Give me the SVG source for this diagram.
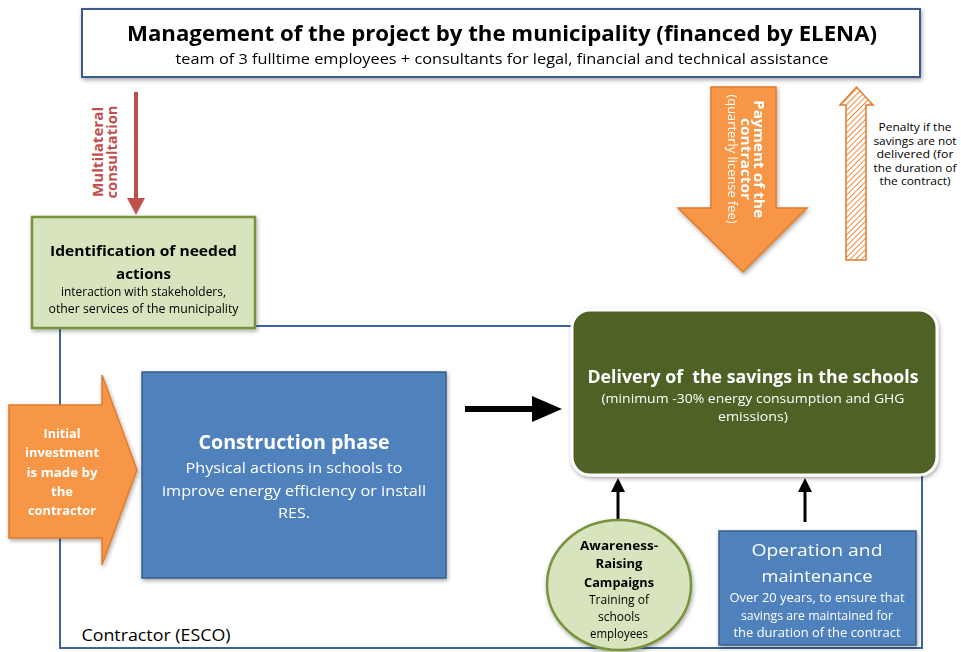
<svg xmlns="http://www.w3.org/2000/svg" width="961" height="652" viewBox="0 0 961 652">
<style>
text{font-family:"Open Sans","Liberation Sans",sans-serif;text-anchor:middle}
.w{fill:#ffffff}
.b{font-weight:bold}
.k{fill:#000000}
.blue{fill:#4f81bd;stroke:#385d8a;stroke-width:1.5}
.green{fill:#d7e4bd;stroke:#77933c;stroke-width:2.5}
.orange{fill:#f79646;stroke:#e07b2c;stroke-width:1.5}
</style>
<defs>
<filter id="sh" x="-10%" y="-10%" width="120%" height="130%">
<feDropShadow dx="1" dy="2" stdDeviation="2" flood-color="#000" flood-opacity="0.35"/>
</filter>
<pattern id="hatch" width="4" height="4" patternUnits="userSpaceOnUse" patternTransform="rotate(45)">
<rect width="4" height="4" fill="#ffffff"/>
<line x1="0" y1="0" x2="0" y2="4" stroke="#f08a40" stroke-width="2"/>
</pattern>
</defs>

<g id="contractor">
<rect x="60" y="326" width="862" height="322" fill="none" stroke="#3d64a0" stroke-width="2"/>
<text x="156" y="641" font-size="16" class="k" textLength="149" lengthAdjust="spacingAndGlyphs">Contractor (ESCO)</text>
</g>

<g id="management" filter="url(#sh)">
<rect x="82" y="9" width="838" height="68" fill="#ffffff" stroke="#385d8a" stroke-width="2"/>
<text x="502" y="41" font-size="22" class="b k" textLength="750" lengthAdjust="spacingAndGlyphs">Management of the project by the municipality (financed by ELENA)</text>
<text x="502" y="64" font-size="14" class="k" textLength="653" lengthAdjust="spacingAndGlyphs">team of 3 fulltime employees + consultants for legal, financial and technical assistance</text>
</g>

<g id="connectors">
<line x1="136" y1="92" x2="136" y2="200" stroke="#c0504d" stroke-width="4"/>
<polygon points="127,198 145,198 136,215" fill="#c0504d"/>
<line x1="465" y1="409" x2="535" y2="409" stroke="#000" stroke-width="6"/>
<polygon points="532,396 562,409 532,422" fill="#000"/>
<line x1="618" y1="522" x2="618" y2="490" stroke="#000" stroke-width="3"/>
<polygon points="611,492 625,492 618,478" fill="#000"/>
<line x1="805" y1="522" x2="805" y2="490" stroke="#000" stroke-width="3"/>
<polygon points="798,492 812,492 805,478" fill="#000"/>
</g>

<g id="multilateral">
<g transform="translate(103,152) rotate(-90)">
<text x="0" y="0" font-size="14" class="b" fill="#c0504d" textLength="90" lengthAdjust="spacingAndGlyphs">Multilateral</text>
<text x="0" y="14" font-size="14" class="b" fill="#c0504d" textLength="93" lengthAdjust="spacingAndGlyphs">consultation</text>
</g>
</g>

<g id="identification" filter="url(#sh)">
<rect x="32" y="217" width="223" height="111" class="green"/>
<text x="143.5" y="256" font-size="15" class="b k" textLength="187" lengthAdjust="spacingAndGlyphs">Identification of needed</text>
<text x="143.5" y="279" font-size="15" class="b k" textLength="55" lengthAdjust="spacingAndGlyphs">actions</text>
<text x="143.5" y="296" font-size="12" class="k" textLength="165" lengthAdjust="spacingAndGlyphs">interaction with stakeholders,</text>
<text x="143.5" y="313" font-size="12" class="k" textLength="190" lengthAdjust="spacingAndGlyphs">other services of the municipality</text>
</g>

<g id="payment" filter="url(#sh)">
<polygon points="711,87 776,87 776,208 807,208 743,272 678,208 711,208" class="orange"/>
<g transform="translate(754,159) rotate(90)">
<text x="0" y="0" font-size="14" class="b w" textLength="118" lengthAdjust="spacingAndGlyphs">Payment of the</text>
<text x="0" y="13" font-size="14" class="b w" textLength="82" lengthAdjust="spacingAndGlyphs">contractor</text>
<text x="0" y="26" font-size="12" class="w" textLength="129" lengthAdjust="spacingAndGlyphs">(quarterly license fee)</text>
</g>
</g>

<g id="penalty">
<polygon points="846,260 846,105 840,105 856.5,87 873,105 866,105 866,260" fill="url(#hatch)" stroke="#e07b2c" stroke-width="1.5"/>
<text x="915" y="131" font-size="11" class="k" textLength="73" lengthAdjust="spacingAndGlyphs">Penalty if the</text>
<text x="915" y="144.5" font-size="11" class="k" textLength="83" lengthAdjust="spacingAndGlyphs">savings are not</text>
<text x="915" y="158" font-size="11" class="k" textLength="77" lengthAdjust="spacingAndGlyphs">delivered (for</text>
<text x="915" y="171.5" font-size="11" class="k" textLength="83" lengthAdjust="spacingAndGlyphs">the duration of</text>
<text x="915" y="185" font-size="11" class="k" textLength="71" lengthAdjust="spacingAndGlyphs">the contract)</text>
</g>

<g id="initial" filter="url(#sh)">
<polygon points="9,405 102,405 102,375 137,470 102,565 102,538 9,538" class="orange"/>
<text x="62" y="438" font-size="13" class="b w" textLength="37" lengthAdjust="spacingAndGlyphs">Initial</text>
<text x="62" y="457" font-size="13" class="b w" textLength="74" lengthAdjust="spacingAndGlyphs">investment</text>
<text x="62" y="477" font-size="13" class="b w" textLength="71" lengthAdjust="spacingAndGlyphs">is made by</text>
<text x="62" y="496" font-size="13" class="b w" textLength="22" lengthAdjust="spacingAndGlyphs">the</text>
<text x="62" y="515" font-size="13" class="b w" textLength="68" lengthAdjust="spacingAndGlyphs">contractor</text>
</g>

<g id="construction" filter="url(#sh)">
<rect x="142" y="372" width="304" height="206" class="blue"/>
<text x="294" y="449" font-size="20" class="b w" textLength="191" lengthAdjust="spacingAndGlyphs">Construction phase</text>
<text x="294" y="473" font-size="15" class="w" textLength="217" lengthAdjust="spacingAndGlyphs">Physical actions in schools to</text>
<text x="294" y="496" font-size="15" class="w" textLength="264" lengthAdjust="spacingAndGlyphs">improve energy efficiency or install</text>
<text x="294" y="518" font-size="15" class="w" textLength="32" lengthAdjust="spacingAndGlyphs">RES.</text>
</g>

<g id="delivery" filter="url(#sh)">
<rect x="572" y="310" width="365" height="165" rx="18" ry="18" fill="#4f6228" stroke="#ffffff" stroke-width="3"/>
<text x="753" y="383" font-size="17" class="b w" xml:space="preserve" textLength="331" lengthAdjust="spacingAndGlyphs">Delivery of  the savings in the schools</text>
<text x="753" y="403" font-size="12" class="w" textLength="303" lengthAdjust="spacingAndGlyphs">(minimum -30% energy consumption and GHG</text>
<text x="753" y="421" font-size="12" class="w" textLength="70" lengthAdjust="spacingAndGlyphs">emissions)</text>
</g>

<g id="awareness" filter="url(#sh)">
<ellipse cx="619" cy="585" rx="72" ry="65" class="green"/>
<text x="619" y="550" font-size="13" class="b k" textLength="78" lengthAdjust="spacingAndGlyphs">Awareness-</text>
<text x="619" y="568" font-size="13" class="b k" textLength="47" lengthAdjust="spacingAndGlyphs">Raising</text>
<text x="619" y="587" font-size="13" class="b k" textLength="70" lengthAdjust="spacingAndGlyphs">Campaigns</text>
<text x="619" y="604" font-size="12" class="k" textLength="60" lengthAdjust="spacingAndGlyphs">Training of</text>
<text x="619" y="621" font-size="12" class="k" textLength="42" lengthAdjust="spacingAndGlyphs">schools</text>
<text x="619" y="638" font-size="12" class="k" textLength="58" lengthAdjust="spacingAndGlyphs">employees</text>
</g>

<g id="operation" filter="url(#sh)">
<rect x="719" y="531" width="197" height="114" class="blue"/>
<text x="817" y="556" font-size="17" class="w" textLength="131" lengthAdjust="spacingAndGlyphs">Operation and</text>
<text x="817" y="582" font-size="17" class="w" textLength="111" lengthAdjust="spacingAndGlyphs">maintenance</text>
<text x="817" y="602" font-size="12" class="w" textLength="175" lengthAdjust="spacingAndGlyphs">Over 20 years, to ensure that</text>
<text x="817" y="620" font-size="12" class="w" textLength="152" lengthAdjust="spacingAndGlyphs">savings are maintained for</text>
<text x="817" y="637" font-size="12" class="w" textLength="167" lengthAdjust="spacingAndGlyphs">the duration of the contract</text>
</g>
</svg>
